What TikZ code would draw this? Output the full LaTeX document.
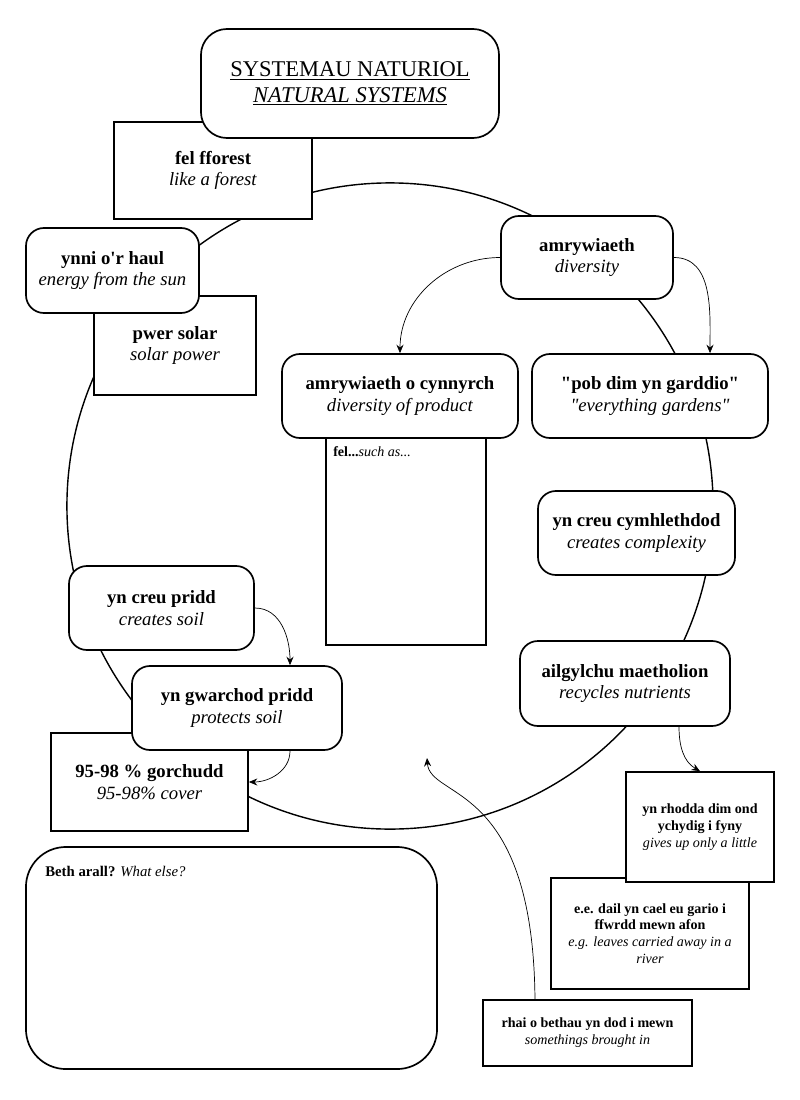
\documentclass[tikz,border=0pt]{standalone}
\usepackage{fontspec}
\setmainfont{Liberation Serif}[Ligatures=TeXOff]
\usetikzlibrary{arrows.meta}

\tikzset{
  roundbox/.style={draw, line width=1.2pt, fill=white, rounded corners=0.45cm,
    align=center, inner sep=0pt, font=\fontsize{13.3}{15.5}\selectfont},
  squarebox/.style={draw, line width=1.2pt, fill=white,
    align=center, inner sep=0pt, font=\fontsize{13.3}{15.5}\selectfont},
  smallbox/.style={squarebox, font=\fontsize{10}{12}\selectfont},
  ring/.style={line width=1pt},
  link/.style={-{Stealth[length=6pt,width=5pt,inset=2pt]}, line width=0.5pt},
}
\newcommand{\cywelsh}[2]{\textbf{#1}\\\textit{#2}}

\begin{document}
\begin{tikzpicture}[x=0.025cm, y=-0.025cm]
    \useasboundingbox (0,0) rectangle (800,1100);
    % the cycle
    \draw[ring] (390,506) circle [radius=8.075cm];

    \node[squarebox, minimum width=4.95cm, minimum height=2.425cm] (forest) at (213,170.5)
        {\cywelsh{fel fforest}{like a forest}};
    \node[roundbox, rounded corners=0.65cm, minimum width=7.45cm, minimum height=2.725cm,
        font=\fontsize{16}{18}\selectfont] (title) at (350,83.5)
        {\underline{SYSTEMAU NATURIOL}\\\textit{\underline{NATURAL SYSTEMS}}};
    \node[squarebox, minimum width=4.05cm, minimum height=2.475cm] (solar) at (175,345.5)
        {\textbf{pwer solar}\\\textit{solar power}};
    \node[roundbox, minimum width=4.325cm, minimum height=2.125cm] (sun) at (112.5,270.5)
        {\cywelsh{ynni o'r haul}{energy from the sun}};

    \node[roundbox, minimum width=4.3cm, minimum height=2.075cm] (diversity) at (587,257.5)
        {\cywelsh{amrywiaeth}{diversity}};
    \node[squarebox, minimum width=4cm, minimum height=5.175cm] (suchas) at (406,541.5) {};
    \node[anchor=north west, inner sep=0pt, font=\fontsize{10}{12}\selectfont] (suchastext) at (333,446)
        {\textbf{fel...}\textit{such as...}};
    \node[roundbox, minimum width=5.9cm, minimum height=2.1cm] (product) at (400,396)
        {\cywelsh{amrywiaeth o cynnyrch}{diversity of product}};
    \node[roundbox, minimum width=5.9cm, minimum height=2.1cm] (garden) at (650,396)
        {\cywelsh{"pob dim yn garddio"}{"everything gardens"}};
    \node[roundbox, minimum width=4.925cm, minimum height=2.1cm] (complex) at (636.5,533)
        {\cywelsh{yn creu cymhlethdod}{creates complexity}};

    \node[roundbox, minimum width=4.625cm, minimum height=2.1cm] (soil) at (161.5,608)
        {\cywelsh{yn creu pridd}{creates soil}};
    \node[squarebox, minimum width=4.925cm, minimum height=2.45cm] (cover) at (149.5,782)
        {\cywelsh{95-98 \% gorchudd}{95-98\% cover}};
    \node[roundbox, minimum width=5.25cm, minimum height=2.1cm] (protect) at (237,708)
        {\cywelsh{yn gwarchod pridd}{protects soil}};

    \node[roundbox, minimum width=5.25cm, minimum height=2.125cm] (recycle) at (625,683.5)
        {\cywelsh{ailgylchu maetholion}{recycles nutrients}};
    \node[smallbox, minimum width=4.95cm, minimum height=2.775cm] (river) at (650,933.5)
        {\textbf{e.e. dail yn cael eu gario i}\\\textbf{ffwrdd mewn afon}\\
         \textit{e.g. leaves carried away in a}\\\textit{river}};
    \node[smallbox, minimum width=3.7cm, minimum height=2.75cm] (little) at (700,827)
        {\textbf{yn rhodda dim ond}\\\textbf{ychydig i fyny}\\\textit{gives up only a little}};
    \node[smallbox, minimum width=5.225cm, minimum height=1.65cm] (brought) at (587.5,1033)
        {\cywelsh{rhai o bethau yn dod i mewn}{somethings brought in}};

    \node[roundbox, rounded corners=1cm, minimum width=10.275cm, minimum height=5.55cm] (else) at (231.5,958) {};
    \node[anchor=north west, inner sep=0pt, font=\fontsize{10.5}{12}\selectfont] (elsetext) at (45,866)
        {\textbf{Beth arall?} \textit{What else?}};

    % arrows
    \coordinate (inflow) at (427,758);
    \draw[link] (diversity.west) to[out=180,in=90] (product.north);
    \draw[link] (diversity.east) to[out=0,in=90] ([xshift=1.5cm]garden.north);
    \draw[link] (soil.east) to[out=0,in=90] ([xshift=1.325cm]protect.north);
    \draw[link] ([xshift=1.325cm]protect.south) to[out=-90,in=0] (cover.east);
    \draw[link] ([xshift=1.35cm]recycle.south) to[out=-90,in=150] (little.north);
    \draw[link] ([xshift=-1.3125cm]brought.north)
        .. controls (533,780) and (430,800) .. (inflow);
\end{tikzpicture}
\end{document}
